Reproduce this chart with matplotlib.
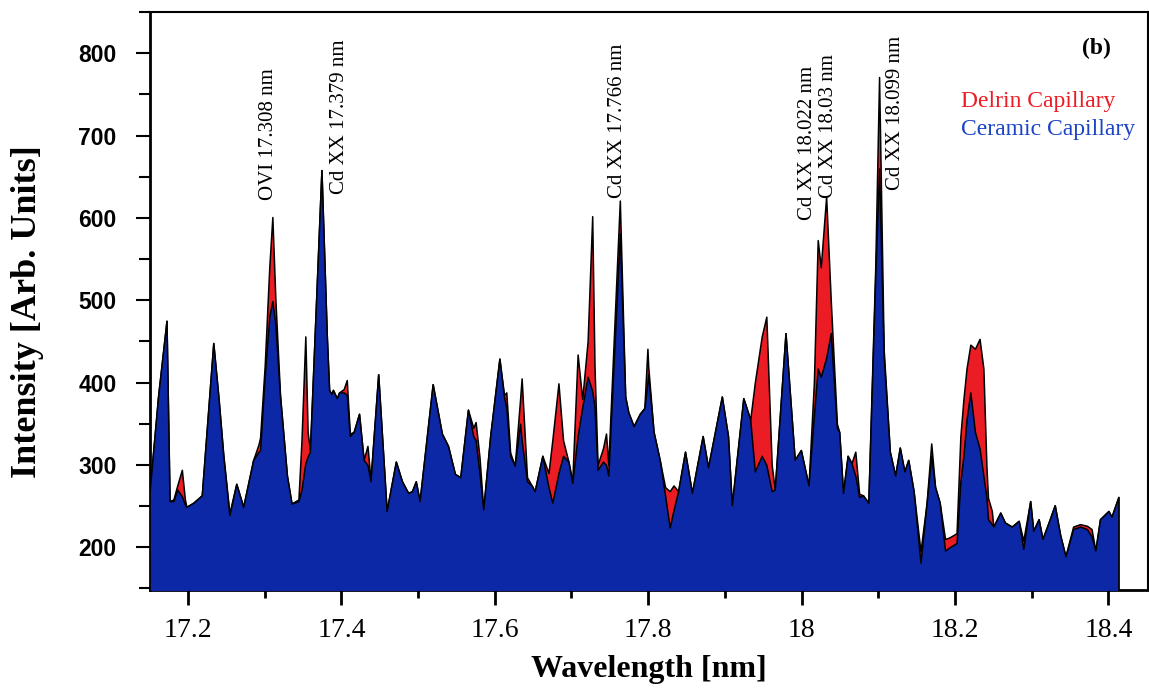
import matplotlib
matplotlib.use("Agg")
import matplotlib.pyplot as plt
from matplotlib.ticker import MultipleLocator

# Wavelength grid (nm) and intensities
wavelength = [
    17.150, 17.161, 17.172, 17.176, 17.181, 17.186, 17.192, 17.196, 17.198, 17.207,
    17.218, 17.233, 17.240, 17.246, 17.254, 17.263, 17.272, 17.285, 17.292, 17.294,
    17.300, 17.306, 17.310, 17.314, 17.320, 17.329, 17.335, 17.344, 17.348, 17.353,
    17.356, 17.359, 17.374, 17.381, 17.384, 17.387, 17.389, 17.394, 17.397, 17.403,
    17.407, 17.411, 17.416, 17.423, 17.429, 17.434, 17.438, 17.448, 17.459, 17.471,
    17.479, 17.487, 17.492, 17.497, 17.502, 17.519, 17.531, 17.539, 17.548, 17.555,
    17.565, 17.572, 17.575, 17.580, 17.585, 17.594, 17.606, 17.612, 17.615, 17.620,
    17.626, 17.633, 17.635, 17.642, 17.648, 17.652, 17.662, 17.670, 17.675, 17.683,
    17.689, 17.696, 17.701, 17.708, 17.714, 17.721, 17.727, 17.730, 17.734, 17.741,
    17.745, 17.748, 17.763, 17.770, 17.774, 17.781, 17.789, 17.795, 17.799, 17.800,
    17.807, 17.815, 17.822, 17.828, 17.833, 17.839, 17.848, 17.857, 17.871, 17.878,
    17.896, 17.904, 17.909, 17.924, 17.933, 17.939, 17.948, 17.954, 17.961, 17.965,
    17.979, 17.991, 17.999, 18.009, 18.016, 18.021, 18.025, 18.032, 18.038, 18.046,
    18.049, 18.054, 18.060, 18.065, 18.070, 18.075, 18.080, 18.087, 18.096, 18.101,
    18.107, 18.115, 18.122, 18.128, 18.134, 18.139, 18.146, 18.155, 18.163, 18.169,
    18.174, 18.180, 18.187, 18.193, 18.202, 18.207, 18.211, 18.215, 18.220, 18.226,
    18.232, 18.237, 18.241, 18.243, 18.248, 18.250, 18.259, 18.265, 18.274, 18.283,
    18.289, 18.298, 18.302, 18.309, 18.314, 18.322, 18.330, 18.337, 18.344, 18.354,
    18.363, 18.372, 18.378, 18.383, 18.389, 18.400, 18.404, 18.413,
]

ceramic = [
    268, 383, 475, 256, 256, 270, 262, 252, 249, 254,
    263, 448, 379, 311, 239, 277, 249, 306, 316, 318,
    407, 480, 499, 470, 383, 287, 253, 256, 270, 302,
    310, 316, 658, 456, 391, 386, 391, 381, 388, 388,
    385, 335, 340, 362, 306, 300, 280, 410, 244, 304,
    280, 266, 268, 280, 256, 398, 338, 323, 289, 285,
    367, 335, 330, 290, 246, 335, 429, 383, 369, 311,
    299, 350, 330, 280, 275, 268, 311, 273, 254, 290,
    311, 304, 278, 335, 370, 407, 390, 370, 294, 304,
    300, 287, 581, 383, 364, 347, 362, 369, 400, 410,
    340, 306, 263, 224, 245, 268, 316, 266, 335, 297,
    383, 335, 251, 381, 355, 292, 311, 300, 268, 270,
    460, 306, 318, 275, 360, 417, 407, 430, 460, 345,
    340, 266, 311, 302, 287, 261, 263, 254, 528, 660,
    432, 316, 287, 321, 292, 306, 268, 181, 254, 311,
    273, 254, 196, 200, 205, 280, 311, 355, 388, 340,
    320, 287, 260, 234, 228, 225, 242, 230, 225, 232,
    198, 256, 220, 234, 210, 230, 251, 215, 189, 222,
    225, 222, 213, 196, 234, 244, 237, 261,
]

delrin = [
    268, 383, 475, 256, 258, 275, 294, 258, 249, 254,
    263, 448, 379, 313, 241, 277, 249, 306, 325, 333,
    420, 540, 601, 500, 385, 287, 253, 258, 330, 456,
    340, 318, 658, 456, 391, 386, 391, 381, 388, 392,
    403, 338, 340, 362, 306, 323, 282, 410, 244, 304,
    280, 266, 268, 280, 256, 398, 338, 323, 289, 285,
    367, 345, 352, 310, 246, 335, 429, 385, 388, 315,
    299, 380, 405, 285, 275, 268, 311, 290, 330, 399,
    330, 304, 280, 434, 380, 450, 602, 420, 300, 320,
    338, 300, 621, 383, 364, 347, 362, 369, 441, 420,
    340, 306, 273, 268, 275, 268, 316, 266, 335, 297,
    383, 335, 251, 381, 355, 400, 456, 480, 300, 270,
    460, 306, 318, 275, 400, 573, 540, 626, 500, 350,
    340, 266, 311, 302, 316, 265, 263, 254, 540, 771,
    440, 316, 287, 321, 292, 306, 268, 195, 254, 326,
    273, 254, 210, 212, 217, 335, 380, 417, 446, 441,
    453, 417, 297, 260, 244, 225, 242, 230, 225, 232,
    208, 256, 220, 234, 210, 230, 251, 215, 189, 225,
    228, 226, 222, 196, 234, 244, 237, 261,
]

line_labels = ["OVI 17.308 nm", "Cd XX 17.379 nm", "Cd XX 17.766 nm",
               "Cd XX 18.022 nm", "Cd XX 18.03 nm", "Cd XX 18.099 nm"]
label_x = [17.3056, 17.398, 17.760, 18.0083, 18.0357, 18.123]
label_y = [622, 629, 624, 597, 624, 634]

series_names = ["Delrin Capillary", "Ceramic Capillary"]
x_ticks = [17.2, 17.4, 17.6, 17.8, 18.0, 18.2, 18.4]
x_ticklabels = ["17.2", "17.4", "17.6", "17.8", "18", "18.2", "18.4"]
y_ticks = [200, 300, 400, 500, 600, 700, 800]

RED = "#EC1C24"
BLUE = "#0C28A6"
SERIF = ["Liberation Serif", "DejaVu Serif"]

fig = plt.figure(figsize=(11.49, 6.89), dpi=100)
ax = fig.add_axes([150 / 1149, 1 - 590 / 689, 998 / 1149, 578 / 689])

base = 0
red = ax.fill_between(wavelength, base, delrin, facecolor=RED, edgecolor="black",
                      linewidth=1.1, zorder=2)
blue = ax.fill_between(wavelength, base, ceramic, facecolor=BLUE, edgecolor="black",
                       linewidth=1.1, zorder=3)

ax.set_xlim(17.1505, 18.4516)
ax.set_ylim(148, 850)

ax.set_xticks(x_ticks)
ax.set_xticklabels(x_ticklabels, fontfamily=SERIF, fontsize=20)
ax.xaxis.set_minor_locator(MultipleLocator(0.1))
ax.set_yticks(y_ticks)
ax.set_yticklabels([str(v) for v in y_ticks], fontfamily=["Liberation Sans", "DejaVu Sans"],
                   fontsize=16.5, fontweight="bold")
ax.yaxis.set_minor_locator(MultipleLocator(50))

ax.tick_params(axis="x", which="major", direction="out", length=11, width=2, pad=9)
ax.tick_params(axis="x", which="minor", direction="out", length=6, width=2)
ax.tick_params(axis="y", which="major", direction="out", length=10, width=1.5, pad=14)
ax.tick_params(axis="y", which="minor", direction="out", length=8, width=1.5)

for side in ["left", "bottom"]:
    ax.spines[side].set_linewidth(2.0)
for side in ["top", "right"]:
    ax.spines[side].set_linewidth(1.5)

ax.set_xlabel("Wavelength [nm]", fontfamily=SERIF, fontsize=23, fontweight="bold",
              va="center", ha="center")
ax.xaxis.set_label_coords(0.5, (590 - 669) / 578)
ax.set_ylabel("Intensity [Arb. Units]", fontfamily=SERIF, fontsize=26, fontweight="bold",
              va="center", ha="center")
ax.yaxis.set_label_coords((27 - 150) / 998, (590 - 312) / 578)

for txt, lx, ly in zip(line_labels, label_x, label_y):
    ax.text(lx, ly, txt, rotation=90, ha="center", va="bottom",
            fontfamily=SERIF, fontsize=15, color="black", zorder=5)

ax.text(18.385, 806, "(b)", ha="center", va="center", fontfamily=SERIF,
        fontsize=17, fontweight="bold", zorder=5)

leg = ax.legend([red, blue], series_names, loc="upper left",
                bbox_to_anchor=((961 - 150) / 998, (590 - 90) / 578),
                frameon=False, handlelength=0, handletextpad=0, borderpad=0,
                borderaxespad=0, labelspacing=0.3,
                prop={"family": SERIF, "size": 17},
                labelcolor=[RED, "#1A44C4"])
for h in leg.legend_handles:
    h.set_visible(False)

fig.savefig("out.png", dpi=100)
